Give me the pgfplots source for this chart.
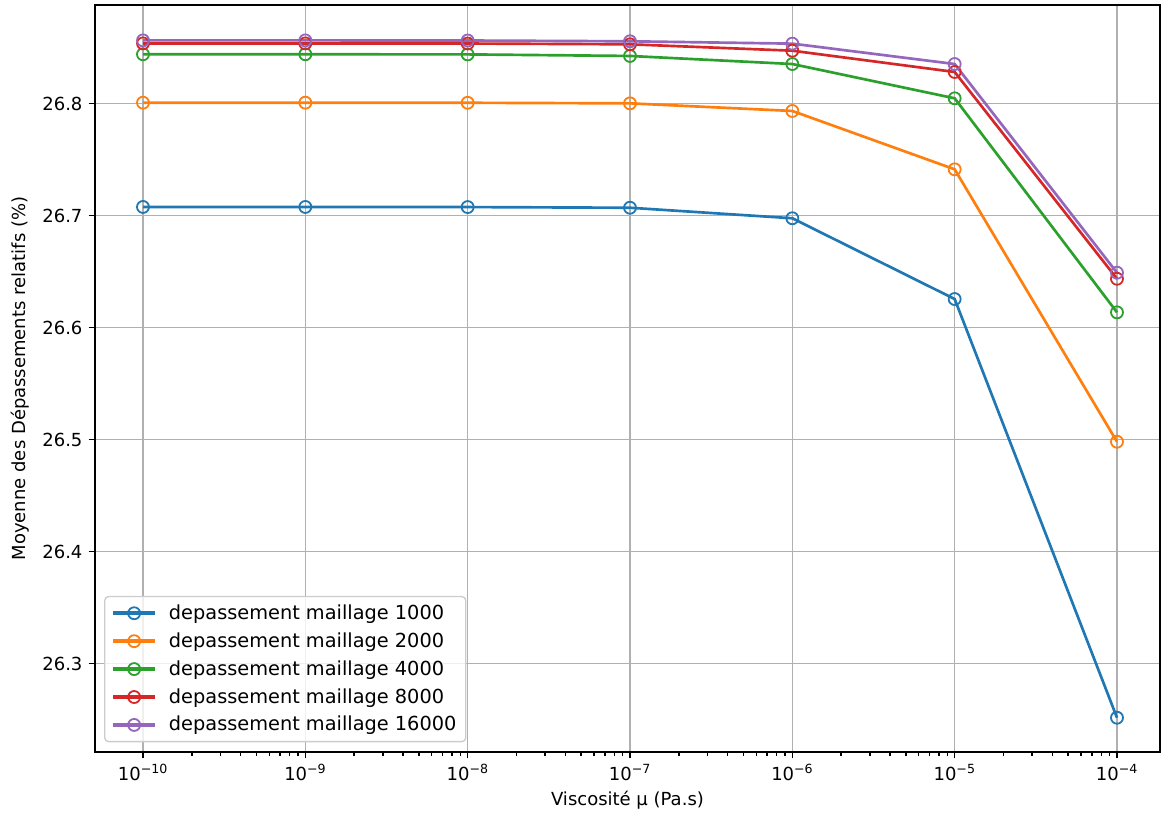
\documentclass[border=0pt]{standalone}
\usepackage{pgfplots}
\pgfplotsset{compat=1.18}
\usepackage{fontspec}
\setmainfont{DejaVu Sans}

\definecolor{c1}{HTML}{1F77B4}
\definecolor{c2}{HTML}{FF7F0E}
\definecolor{c3}{HTML}{2CA02C}
\definecolor{c4}{HTML}{D62728}
\definecolor{c5}{HTML}{9467BD}
\definecolor{gridgray}{HTML}{B0B0B0}

\begin{document}
\fontsize{13.5pt}{16pt}\selectfont
\begin{tikzpicture}
\begin{axis}[
  scale only axis,
  width=798.75pt, height=560.25pt,
  xmode=log,
  xmin=5.06e-11, xmax=1.84e-4,
  ymin=26.2212, ymax=26.8881,
  xtick={1e-10,1e-9,1e-8,1e-7,1e-6,1e-5,1e-4},
  xticklabels={10\textsuperscript{−10},10\textsuperscript{−9},10\textsuperscript{−8},10\textsuperscript{−7},10\textsuperscript{−6},10\textsuperscript{−5},10\textsuperscript{−4}},
  ytick={26.3,26.4,26.5,26.6,26.7,26.8},
  yticklabel style={/pgf/number format/.cd,fixed,precision=1,fixed zerofill,assume math mode=true},
  ticklabel style={font=\fontsize{13.5pt}{16pt}\selectfont},
  tick pos=left,
  tick align=outside,
  major tick length=4.7pt,
  minor tick length=2.7pt,
  every tick/.style={black, line width=1.1pt},
  minor x tick num=8,
  xminorgrids=false,
  grid=major,
  major grid style={gridgray, line width=1.1pt},
  axis line style={black, line width=1.1pt},
  xlabel={Viscosité µ (Pa.s)},
  ylabel={Moyenne des Dépassements relatifs (\%)},
  label style={font=\fontsize{13.5pt}{16pt}\selectfont},
  xlabel style={yshift=2pt},
  ylabel style={at={(axis description cs:-0.0701,0.5)}, anchor=center},
  every axis plot/.append style={line width=2pt, mark=o, mark size=4.5pt, mark options={line width=1.35pt, fill=none}},
  legend style={at={(0.0085,0.013)}, anchor=south west, draw=black!20, rounded corners=3pt,
    fill=white, fill opacity=0.8, text opacity=1, line width=1pt,
    font=\fontsize{14.5pt}{17pt}\selectfont, row sep=3.9pt, inner xsep=5pt, inner ysep=4pt,
    /tikz/every odd column/.append style={column sep=7pt}},
  legend cell align=left,
  legend image code/.code={\draw[line width=2.7pt,mark repeat=2,mark phase=2] plot coordinates {(0pt,0pt)(15.75pt,0pt)(31.5pt,0pt)};},
]
\addplot[c1] coordinates {(1e-10,26.7078) (1e-9,26.7078) (1e-8,26.7077) (1e-7,26.7071) (1e-6,26.6977) (1e-5,26.6256) (1e-4,26.2518)};
\addlegendentry{depassement maillage 1000}
\addplot[c2] coordinates {(1e-10,26.8009) (1e-9,26.8009) (1e-8,26.8008) (1e-7,26.8003) (1e-6,26.7935) (1e-5,26.7414) (1e-4,26.4982)};
\addlegendentry{depassement maillage 2000}
\addplot[c3] coordinates {(1e-10,26.8441) (1e-9,26.8441) (1e-8,26.8440) (1e-7,26.8426) (1e-6,26.8354) (1e-5,26.8048) (1e-4,26.6137)};
\addlegendentry{depassement maillage 4000}
\addplot[c4] coordinates {(1e-10,26.8538) (1e-9,26.8538) (1e-8,26.8537) (1e-7,26.8530) (1e-6,26.8473) (1e-5,26.8283) (1e-4,26.6437)};
\addlegendentry{depassement maillage 8000}
\addplot[c5] coordinates {(1e-10,26.8565) (1e-9,26.8565) (1e-8,26.8564) (1e-7,26.8557) (1e-6,26.8536) (1e-5,26.8354) (1e-4,26.6491)};
\addlegendentry{depassement maillage 16000}
\end{axis}
% white margins around the frame
\path ([xshift=0.75pt,yshift=3.75pt]current axis.north east);
\path ([xshift=-71.25pt]current axis.south west);
\end{tikzpicture}
\end{document}
